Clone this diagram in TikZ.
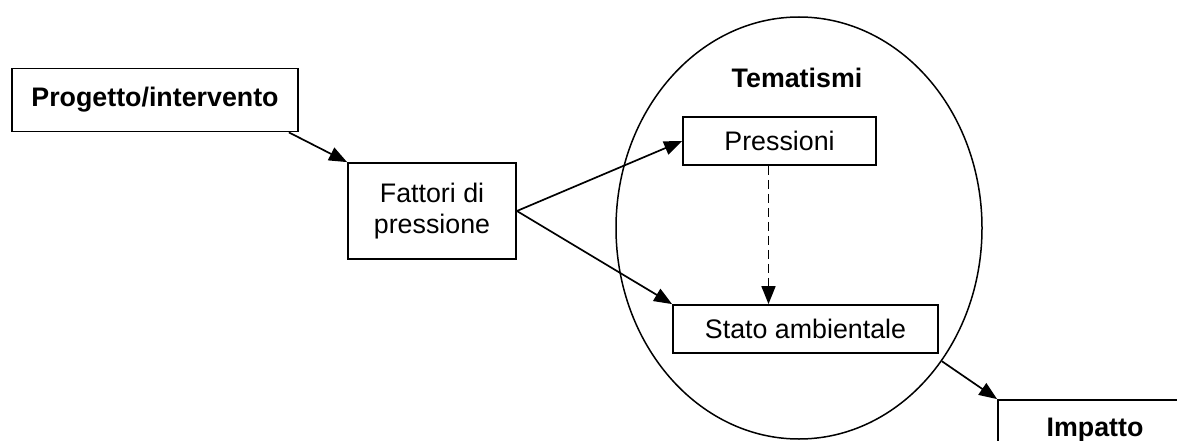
\documentclass[tikz,border=0pt]{standalone}
\usepackage{fontspec}
\setmainfont{Liberation Sans}
\usetikzlibrary{arrows.meta,shapes.geometric}
\begin{document}
\begin{tikzpicture}[x=1pt,y=-1pt,
  box/.style={draw,line width=1.8pt,inner sep=0pt,align=center,
    font=\fontsize{26.8}{31}\selectfont},
  boldbox/.style={box,font=\fontsize{26.8}{31}\selectfont\bfseries},
  conn/.style={line width=1.7pt,-{Triangle[length=18pt,width=14pt]}},
  dashconn/.style={conn,dashed,dash pattern=on 9pt off 5pt}]
\useasboundingbox (0,0) rectangle (1177,441);
\clip (0,0) rectangle (1177,441);

% theme ellipse with its title
\node[ellipse,draw,line width=1.5pt,minimum width=366pt,minimum height=422pt,inner sep=0pt] (tem) at (799,228) {};
\node[font=\fontsize{26.8}{31}\selectfont\bfseries] (temtitle) at (797,78) {Tematismi};

% boxes
\node[boldbox,minimum width=286pt,minimum height=63pt] (prog) at (155,100) {Progetto/intervento};
\node[box,minimum width=168pt,minimum height=96pt] (fat) at (432,211) {Fattori di\\pressione};
\node[box,minimum width=193pt,minimum height=48pt] (pres) at (779.5,141) {Pressioni};
\node[box,minimum width=265pt,minimum height=48pt] (stato) at (805.5,329) {Stato ambientale};
\node[boldbox,minimum width=194pt,minimum height=60pt] (imp) at (1095,430) {Impatto};

% connectors
\draw[conn] ([xshift=-10pt]prog.south east) -- (fat.north west);
\draw[conn] (fat.east) -- (pres.west);
\draw[conn] (fat.east) -- (stato.north west);
\draw[dashconn] ([xshift=-11pt]pres.south) -- ([xshift=-11pt]pres.south |- stato.north);
\draw[conn] (tem.-43.5) -- (imp.north west);
\end{tikzpicture}
\end{document}
